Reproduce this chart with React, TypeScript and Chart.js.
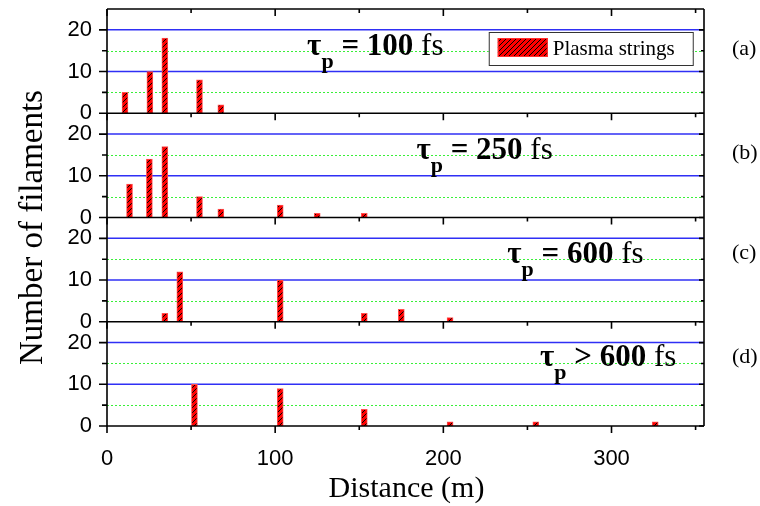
import { useEffect, useRef } from 'react';
import { Chart, registerables } from 'chart.js';

Chart.register(...registerables);

// Filament counts against propagation distance, one panel per pulse duration
const panelTags = ['(a)', '(b)', '(c)', '(d)'];
const pulseRelation = ['=', '=', '=', '>'];
const pulseDuration = ['100', '250', '600', '600'];

const distA = [10.7, 25.5, 34.4, 55, 67.7];
const countA = [5, 10, 18, 8, 2];
const distB = [13.4, 25.2, 34.4, 55, 67.7, 103, 125, 153];
const countB = [8, 14, 17, 5, 2, 3, 1, 1];
const distC = [34.4, 43.3, 103, 153, 175, 204];
const countC = [2, 12, 10, 2, 3, 1];
const distD = [52, 103, 153, 204, 255, 326];
const countD = [10, 9, 4, 1, 1, 1];

const panelDistances = [distA, distB, distC, distD];
const panelCounts = [countA, countB, countC, countD];

const xTickLabels = [0, 100, 200, 300];
const xMinorTicks = [50, 150, 250, 350];
const yTickLabels = [0, 10, 20];
const yMinorTicks = [5, 15];
const X_MAX = 355;
const Y_MAX = 25;

// label anchors in data units of each panel
const labelAnchorX = [119, 184, 238, 257.5];
const labelAnchorY = [14, 14, 14, 14.5];
const tagAnchorY = [14, 14, 15, 15];

const SERIF = '"Liberation Serif", "Times New Roman", serif';
const SANS = '"Liberation Sans", Arial, sans-serif';
const BLUE = '#2f2ff5';
const GREEN = '#38f038';
const panelIds = ['ya', 'yb', 'yc', 'yd'];

function makeHatch(ctx: CanvasRenderingContext2D): CanvasPattern | string {
  const c = document.createElement('canvas');
  c.width = 5;
  c.height = 5;
  const g = c.getContext('2d');
  if (!g) return '#ff0000';
  g.fillStyle = '#ff0000';
  g.fillRect(0, 0, 5, 5);
  g.strokeStyle = '#000000';
  g.lineWidth = 1;
  g.beginPath();
  g.moveTo(0, 5);
  g.lineTo(5, 0);
  g.moveTo(-1, 1);
  g.lineTo(1, -1);
  g.moveTo(4, 6);
  g.lineTo(6, 4);
  g.stroke();
  return ctx.createPattern(c, 'repeat') || '#ff0000';
}

const zeroPadding = (s: any) => {
  s.paddingTop = 0;
  s.paddingBottom = 0;
  s.paddingLeft = 0;
  s.paddingRight = 0;
};

const decorPlugin = {
  id: 'panelDecor',
  beforeDatasetsDraw(chart: any) {
    const { ctx, chartArea } = chart;
    ctx.save();
    for (const id of panelIds) {
      const s = chart.scales[id];
      ctx.strokeStyle = GREEN;
      ctx.lineWidth = 1;
      ctx.setLineDash([2, 2]);
      for (const v of yMinorTicks) {
        const y = Math.round(s.getPixelForValue(v)) + 0.5;
        ctx.beginPath();
        ctx.moveTo(chartArea.left, y);
        ctx.lineTo(chartArea.right, y);
        ctx.stroke();
      }
      ctx.setLineDash([]);
      ctx.strokeStyle = BLUE;
      ctx.lineWidth = 1.5;
      for (const v of yTickLabels) {
        if (v === 0) continue;
        const y = s.getPixelForValue(v);
        ctx.beginPath();
        ctx.moveTo(chartArea.left, y);
        ctx.lineTo(chartArea.right, y);
        ctx.stroke();
      }
    }
    ctx.restore();
  },
  afterDatasetsDraw(chart: any) {
    const { ctx, chartArea } = chart;
    const xs = chart.scales.x;
    const { left, right, top, bottom } = chartArea;
    ctx.save();
    ctx.strokeStyle = '#000';
    ctx.lineWidth = 1.6;

    // horizontal panel frames and downward x ticks at each
    const edges = [top, ...panelIds.map((id) => chart.scales[id].getPixelForValue(0))];
    for (const y of edges) {
      ctx.beginPath();
      ctx.moveTo(left, y);
      ctx.lineTo(right, y);
      ctx.stroke();
      for (const v of xTickLabels) {
        const x = xs.getPixelForValue(v);
        ctx.beginPath();
        ctx.moveTo(x, y);
        ctx.lineTo(x, y + 7);
        ctx.stroke();
      }
      for (const v of xMinorTicks) {
        const x = xs.getPixelForValue(v);
        ctx.beginPath();
        ctx.moveTo(x, y);
        ctx.lineTo(x, y + 4);
        ctx.stroke();
      }
    }
    // vertical frame
    ctx.beginPath();
    ctx.moveTo(left, top);
    ctx.lineTo(left, bottom);
    ctx.moveTo(right, top);
    ctx.lineTo(right, bottom);
    ctx.stroke();

    // y ticks: outward on the left, inward on the right
    for (const id of panelIds) {
      const s = chart.scales[id];
      for (const v of yTickLabels) {
        const y = s.getPixelForValue(v);
        ctx.beginPath();
        ctx.moveTo(left - 8, y);
        ctx.lineTo(left, y);
        ctx.moveTo(right - 5, y);
        ctx.lineTo(right, y);
        ctx.stroke();
      }
      for (const v of yMinorTicks) {
        const y = s.getPixelForValue(v);
        ctx.beginPath();
        ctx.moveTo(left - 5, y);
        ctx.lineTo(left, y);
        ctx.moveTo(right - 3, y);
        ctx.lineTo(right, y);
        ctx.stroke();
      }
    }

    // pulse-duration labels
    ctx.fillStyle = '#000';
    ctx.textBaseline = 'alphabetic';
    ctx.textAlign = 'left';
    panelIds.forEach((id, i) => {
      const s = chart.scales[id];
      let x = xs.getPixelForValue(labelAnchorX[i]);
      const y = s.getPixelForValue(labelAnchorY[i]);
      ctx.font = `bold 31px ${SERIF}`;
      ctx.fillText('τ', x, y);
      x += ctx.measureText('τ').width;
      ctx.font = `bold 22px ${SERIF}`;
      ctx.fillText('p', x, y + 13);
      x += ctx.measureText('p').width;
      ctx.font = `bold 31px ${SERIF}`;
      const mid = ` ${pulseRelation[i]} ${pulseDuration[i]} `;
      ctx.fillText(mid, x, y);
      x += ctx.measureText(mid).width;
      ctx.font = `31px ${SERIF}`;
      ctx.fillText('fs', x, y);

      // panel tag on the right
      ctx.font = `22px ${SERIF}`;
      ctx.fillText(panelTags[i], right + 28, s.getPixelForValue(tagAnchorY[i]));
    });

    // legend box
    const hatch = chart.data.datasets[0].backgroundColor;
    const lx = xs.getPixelForValue(227);
    const ly = Math.round(chart.scales.ya.getPixelForValue(19.5));
    ctx.fillStyle = '#fff';
    ctx.fillRect(lx, ly, 204, 33);
    ctx.strokeStyle = '#333';
    ctx.lineWidth = 1;
    ctx.strokeRect(lx + 0.5, ly + 0.5, 204, 33);
    ctx.fillStyle = hatch;
    ctx.fillRect(lx + 9, ly + 6, 50, 19);
    ctx.strokeStyle = '#ff3030';
    ctx.strokeRect(lx + 9.5, ly + 6.5, 49, 18);
    ctx.fillStyle = '#000';
    ctx.font = `21px ${SERIF}`;
    ctx.fillText('Plasma strings', lx + 64, ly + 23);

    // axis titles
    ctx.font = `30px ${SERIF}`;
    ctx.textAlign = 'center';
    ctx.fillText('Distance (m)', (left + right) / 2 + 1, 497);
    ctx.save();
    ctx.translate(42, (top + bottom) / 2 + 10);
    ctx.rotate(-Math.PI / 2);
    ctx.font = `33px ${SERIF}`;
    ctx.fillText('Number of filaments', 0, 0);
    ctx.restore();

    ctx.restore();
  },
};

export default function App() {
  const ref = useRef<HTMLCanvasElement>(null);

  useEffect(() => {
    const canvas = ref.current;
    if (!canvas) return;
    const ctx = canvas.getContext('2d');
    if (!ctx) return;
    const hatch = makeHatch(ctx);

    const yScale = (i: number) => ({
      type: 'linear' as const,
      position: 'left' as const,
      stack: 'panels',
      stackWeight: 1,
      weight: 4 - i,
      min: 0,
      max: Y_MAX,
      afterBuildTicks: (s: any) => {
        s.ticks = yTickLabels.map((v) => ({ value: v }));
      },
      afterFit: (s: any) => {
        s.width = 107;
        zeroPadding(s);
      },
      ticks: {
        font: { family: SANS, size: 22 },
        color: '#000',
        padding: 15,
        autoSkip: false,
      },
      grid: { display: false, drawTicks: false },
      border: { display: false },
    });

    const chart = new Chart(canvas, {
      type: 'bar',
      data: {
        datasets: panelIds.map((id, i) => ({
          label: 'Plasma strings',
          data: panelDistances[i].map((d, k) => ({ x: d, y: panelCounts[i][k] })),
          xAxisID: 'x',
          yAxisID: id,
          backgroundColor: hatch as any,
          borderColor: '#ff5050',
          borderWidth: 1,
          barThickness: 6,
          grouped: false,
        })),
      },
      options: {
        responsive: false,
        animation: false,
        devicePixelRatio: 1,
        layout: { padding: { top: 9, right: 56, left: 0, bottom: 0 } },
        plugins: { legend: { display: false }, tooltip: { enabled: false } },
        scales: {
          x: {
            type: 'linear',
            position: 'bottom',
            offset: false,
            min: 0,
            max: X_MAX,
            afterBuildTicks: (s: any) => {
              s.ticks = xTickLabels.map((v) => ({ value: v }));
            },
            afterFit: (s: any) => {
              s.height = 80;
              zeroPadding(s);
            },
            ticks: {
              font: { family: SANS, size: 22 },
              color: '#000',
              padding: 20,
              maxRotation: 0,
              autoSkip: false,
            },
            grid: { display: false, drawTicks: false, offset: false },
            border: { display: false },
          },
          ya: yScale(0),
          yb: yScale(1),
          yc: yScale(2),
          yd: yScale(3),
        } as any,
      },
      plugins: [decorPlugin],
    });

    return () => chart.destroy();
  }, []);

  return (
    <div style={{ position: 'absolute', left: 0, top: 0, width: 760, height: 506, background: '#fff' }}>
      <canvas ref={ref} width={760} height={506} style={{ width: 760, height: 506, display: 'block' }} />
    </div>
  );
}
